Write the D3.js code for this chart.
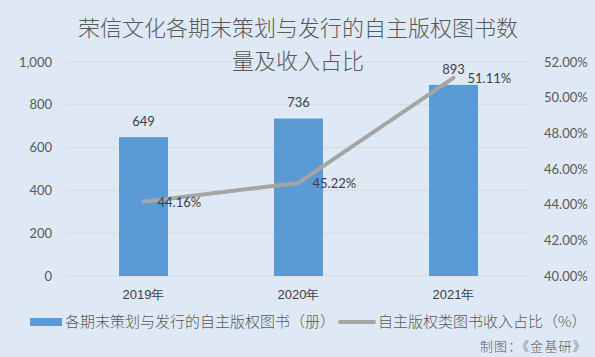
<!DOCTYPE html>
<html><head><meta charset="utf-8">
<script src="https://cdn.jsdelivr.net/npm/d3@7"></script>
<style>
html,body{margin:0;padding:0;background:#dfe9f5;}
svg{display:block;font-family:Lato,"Noto Sans CJK SC",sans-serif;}
</style></head>
<body><svg id="c" width="595" height="357"></svg>
<script>
const categories = ["2019年","2020年","2021年"];
const bookCounts = [649, 736, 893];
const incomeShare = [44.16, 45.22, 51.11];
const leftTicks = [0,200,400,600,800,1000];
const rightTicks = [40,42,44,46,48,50,52];
const titleLines = ["荣信文化各期末策划与发行的自主版权图书数","量及收入占比"];
const legendNames = ["各期末策划与发行的自主版权图书（册）","自主版权类图书收入占比（%）"];
const sourceText = "制图：《金基研》";

const CJK = "'Noto Sans CJK SC',sans-serif";
const svg = d3.select("#c");
svg.append("rect").attr("width",595).attr("height",357).attr("fill","#dfe9f5");

const L=66, R=531, T=62, B=276;
const x = d3.scaleBand().domain(categories).range([L,R]).padding(0);
const barW = x.bandwidth()*0.316;
const cx = c => x(c)+x.bandwidth()/2;
const yL = d3.scaleLinear().domain([0,1000]).range([B,T]);
const yR = d3.scaleLinear().domain([40,52]).range([B,T]);

// gridlines
svg.append("g").selectAll("line").data(leftTicks).join("line")
  .attr("x1",L).attr("x2",R).attr("y1",d=>yL(d)).attr("y2",d=>yL(d))
  .attr("stroke","#d9d9d9").attr("stroke-width",1);

const fmt = d3.format(",");
const la = svg.append("g").attr("transform",`translate(${L},0)`)
  .call(d3.axisLeft(yL).tickValues(leftTicks).tickFormat(fmt).tickSize(0).tickPadding(14));
la.select(".domain").remove();
la.selectAll("text").attr("fill","#595959").style("font-size","13px").style("font-family","Lato,sans-serif");

const ra = svg.append("g").attr("transform",`translate(${R},0)`)
  .call(d3.axisRight(yR).tickValues(rightTicks).tickFormat(d=>d.toFixed(2)+"%").tickSize(0).tickPadding(13));
ra.select(".domain").remove();
ra.selectAll("text").attr("fill","#595959").style("font-size","13px").style("font-family","Lato,sans-serif");

const xa = svg.append("g").attr("transform",`translate(0,${B})`)
  .call(d3.axisBottom(x).tickSize(0).tickPadding(14));
xa.select(".domain").remove();
xa.selectAll("text").attr("fill","#404040").style("font-size","13px").style("font-weight","300");

// bars
svg.append("g").selectAll("rect").data(bookCounts).join("rect")
  .attr("x",(d,i)=>cx(categories[i])-barW/2).attr("width",barW)
  .attr("y",d=>yL(d)).attr("height",d=>B-yL(d)).attr("fill","#5b9bd5");

// line
const line = d3.line().x((d,i)=>cx(categories[i])).y(d=>yR(d));
svg.append("path").datum(incomeShare).attr("d",line).attr("fill","none")
  .attr("stroke","#a5a5a5").attr("stroke-width",4).attr("stroke-linecap","round").attr("stroke-linejoin","round");

// bar labels
svg.append("g").selectAll("text").data(bookCounts).join("text")
  .attr("x",(d,i)=>cx(categories[i])).attr("y",d=>yL(d)-11)
  .attr("text-anchor","middle").attr("fill","#404040").style("font-size","13px")
  .text(d=>d);

// line labels
svg.append("g").selectAll("text").data(incomeShare).join("text")
  .attr("x",(d,i)=>cx(categories[i])+14).attr("y",d=>yR(d)+5)
  .attr("fill","#404040").style("font-size","13px")
  .text(d=>d.toFixed(2)+"%");

// title
svg.append("g").selectAll("text").data(titleLines).join("text")
  .attr("x",298).attr("y",(d,i)=>36+i*33).attr("text-anchor","middle")
  .attr("fill","#595959").style("font-size","22px").style("font-weight","300").style("font-family",CJK)
  .text(d=>d);

// legend
const lg = svg.append("g");
lg.append("rect").attr("x",30).attr("y",318).attr("width",32).attr("height",8).attr("fill","#5b9bd5");
lg.append("text").attr("x",65).attr("y",327).attr("fill","#595959").style("font-size","15px").style("font-weight","300")
  .style("font-family",CJK).text(legendNames[0]);
lg.append("line").attr("x1",340).attr("x2",374).attr("y1",322).attr("y2",322)
  .attr("stroke","#a5a5a5").attr("stroke-width",4).attr("stroke-linecap","round");
lg.append("text").attr("x",378).attr("y",327).attr("fill","#595959").style("font-size","15px").style("font-weight","300")
  .style("font-family",CJK).text(legendNames[1]);

svg.append("text").attr("x",587).attr("y",351).attr("text-anchor","end").attr("fill","#595959")
  .style("font-size","13px").style("font-weight","300").style("letter-spacing","1.2px").style("font-family",CJK).text(sourceText);
</script></body></html>
